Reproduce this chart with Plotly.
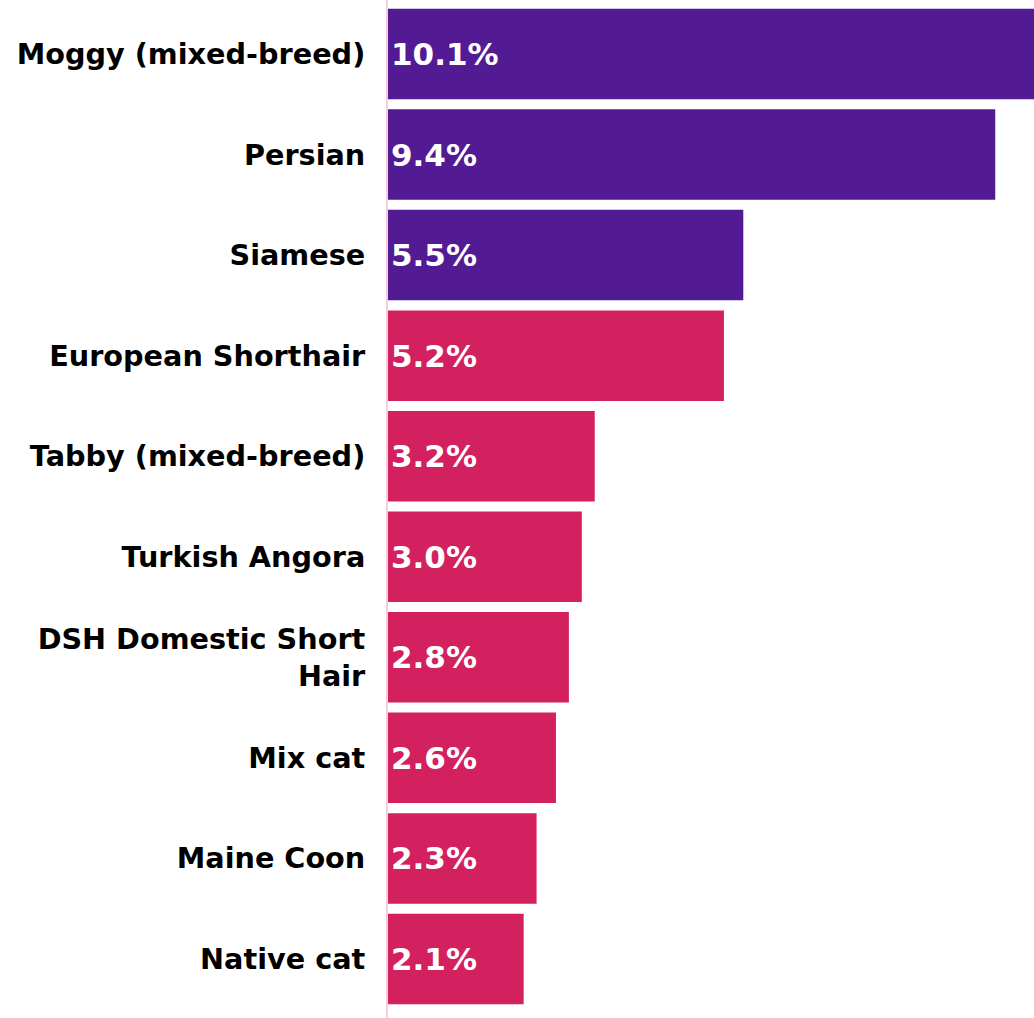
import plotly.graph_objects as go

# Most common cat breeds, share of respondents (%)
breeds = [
    "Moggy (mixed-breed)",
    "Persian",
    "Siamese",
    "European Shorthair",
    "Tabby (mixed-breed)",
    "Turkish Angora",
    "DSH Domestic Short<br>Hair",
    "Mix cat",
    "Maine Coon",
    "Native cat",
]
shares = [10.1, 9.4, 5.5, 5.2, 3.2, 3.0, 2.8, 2.6, 2.3, 2.1]

PURPLE = "#521B94"
PINK = "#D3205E"
TOP_N = 3  # leading breeds highlighted in purple

colors = [PURPLE if i < TOP_N else PINK for i in range(len(breeds))]
labels = [f"{v:.1f}%" for v in shares]

FONT = "DejaVu Sans"

fig = go.Figure(
    go.Bar(
        x=shares,
        y=list(range(len(breeds))),
        orientation="h",
        marker=dict(color=colors, line=dict(width=0)),
        text=labels,
        textposition="inside",
        insidetextanchor="start",
        textfont=dict(family=FONT, size=31, color="white", weight="bold"),
        cliponaxis=True,
        hoverinfo="skip",
    )
)

fig.update_layout(
    width=1034,
    height=1018,
    margin=dict(l=388, r=0, t=0, b=0),
    paper_bgcolor="white",
    plot_bgcolor="white",
    bargap=0.1,
    showlegend=False,
    uniformtext=dict(minsize=31, mode="show"),
)

fig.update_xaxes(
    range=[0, 10],
    visible=False,
    showgrid=False,
    zeroline=False,
)

fig.update_yaxes(
    range=[9.587, -0.537],
    tickmode="array",
    tickvals=list(range(len(breeds))),
    ticktext=breeds,
    showgrid=False,
    zeroline=False,
    showline=True,
    linecolor="#F8CCDB",
    linewidth=2,
    ticks="",
    ticklabelstandoff=15,
    tickfont=dict(family=FONT, size=28.7, color="black", weight="bold"),
)

fig.write_html("out.html")
